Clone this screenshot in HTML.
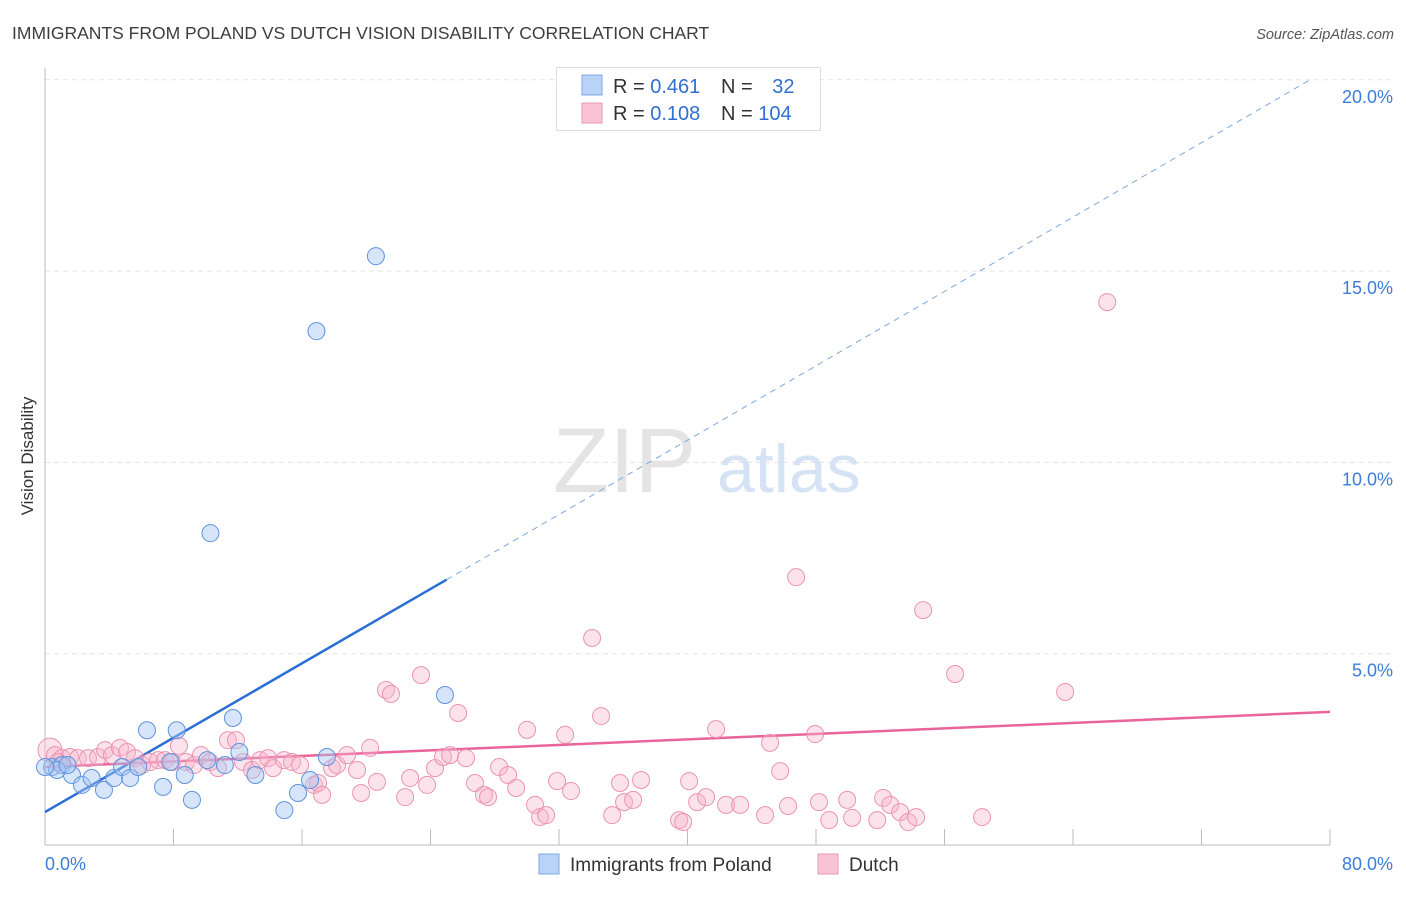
<!DOCTYPE html>
<html><head><meta charset="utf-8"><style>
body{margin:0;background:#fff;font-family:"Liberation Sans",sans-serif;}
svg text{font-family:"Liberation Sans",sans-serif;}
</style></head><body>
<svg id="chart" width="1406" height="892" viewBox="0 0 1406 892">
<text x="12" y="39" font-size="17.5" fill="#3d3d3d">IMMIGRANTS FROM POLAND VS DUTCH VISION DISABILITY CORRELATION CHART</text>
<text x="1394" y="39" font-size="14.5" fill="#555" font-style="italic" text-anchor="end">Source: ZipAtlas.com</text>
<text transform="translate(33,456) rotate(-90)" font-size="17" fill="#333" text-anchor="middle">Vision Disability</text>
<g id="grid"></g>
<g><text x="553" y="492" font-size="92" fill="#e4e4e4" font-family="Liberation Serif,serif">ZIP</text><text x="717" y="492" font-size="68" fill="#d5e3f5">atlas</text></g>
<g id="axes"></g>
<g id="lines"></g>
<g id="pts"></g>
<g>
<rect x="556.5" y="67.5" width="264" height="63" fill="#fff" stroke="#ddd"/>
<rect x="582" y="75" width="20" height="20" fill="#b8d3f5" stroke="#7eaae6"/>
<rect x="582" y="103" width="20" height="20" fill="#f9c3d3" stroke="#eb9ab4"/>
<text x="613" y="93" font-size="20" fill="#333">R = <tspan fill="#2f6fd0">0.461</tspan></text>
<text x="721" y="93" font-size="20" fill="#333">N = <tspan fill="#2f6fd0" dx="14">32</tspan></text>
<text x="613" y="120" font-size="20" fill="#333">R = <tspan fill="#2f6fd0">0.108</tspan></text>
<text x="721" y="120" font-size="20" fill="#333">N = <tspan fill="#2f6fd0">104</tspan></text>
</g>
<g>
<rect x="539" y="854" width="20" height="20" fill="#b8d3f5" stroke="#7eaae6"/>
<text x="570" y="871" font-size="19" fill="#333">Immigrants from Poland</text>
<rect x="818" y="854" width="20" height="20" fill="#f9c3d3" stroke="#eb9ab4"/>
<text x="849" y="871" font-size="19" fill="#333">Dutch</text>
</g>
</svg>
<script>
const yTicks=[5,10,15,20];
const yTickLabels=["5.0%","10.0%","15.0%","20.0%"];
const xTickLabels=["0.0%","80.0%"];
const polandX=[0.44,1.06,1.68,2.3,2.9,3.67,4.3,4.8,5.3,5.8,6.35,7.35,7.8,8.2,8.7,9.15,10.1,10.3,11.2,11.7,12.1,13.1,14.9,15.75,16.5,16.9,17.55,20.6,24.9,0.75,0.0,1.4];
const polandY=[2.04,2.09,1.83,1.57,1.75,1.44,1.75,2.04,1.75,2.04,3.0,1.52,2.17,3.0,1.83,1.18,2.22,8.15,2.09,3.32,2.43,1.83,0.91,1.36,1.7,13.43,2.3,15.39,3.92,1.96,2.04,2.09];
const dutchX=[0.31,0.62,1.06,1.56,2.05,2.68,3.3,3.74,4.17,4.67,5.11,5.6,6.04,6.54,7.04,7.47,7.91,8.34,8.78,9.28,9.71,10.27,10.77,11.39,11.89,12.33,12.89,13.39,13.89,14.2,14.88,15.38,15.88,16.75,17.0,17.25,17.87,18.18,18.8,19.43,19.68,20.24,20.67,21.23,21.54,22.42,22.73,23.41,23.79,24.28,24.78,25.22,25.72,26.21,26.77,27.33,27.58,28.27,28.83,29.33,30.01,30.51,30.82,31.2,31.88,32.38,32.75,34.06,34.62,35.31,35.8,36.05,36.61,37.11,39.48,39.73,40.1,40.6,41.16,41.78,42.4,43.28,44.83,45.14,45.77,46.26,46.76,47.95,48.19,48.82,49.94,50.25,51.81,52.18,52.62,53.24,53.74,54.23,54.67,56.66,58.34,63.51,66.13,0.81];
const dutchY=[2.48,2.35,2.27,2.3,2.27,2.27,2.3,2.48,2.35,2.54,2.43,2.27,2.09,2.17,2.22,2.22,2.17,2.59,2.17,2.09,2.35,2.17,2.01,2.74,2.74,2.17,1.96,2.22,2.27,2.01,2.22,2.17,2.09,1.57,1.62,1.31,2.01,2.09,2.35,1.96,1.36,2.54,1.65,4.05,3.95,1.25,1.75,4.44,1.57,2.01,2.3,2.35,3.45,2.27,1.62,1.31,1.25,2.04,1.83,1.49,3.01,1.05,0.73,0.78,1.67,2.88,1.41,5.41,3.37,0.78,1.62,1.12,1.18,1.7,0.65,0.6,1.67,1.12,1.25,3.03,1.05,1.05,0.78,2.67,1.93,1.02,7.0,2.9,1.12,0.65,1.18,0.71,0.65,1.23,1.05,0.86,0.6,0.73,6.14,4.47,0.73,4.0,14.19,2.17];
const polandTrend=[0.86,0.243];
const dutchTrend=[2.04,0.018];
const NS="http://www.w3.org/2000/svg";
const X=v=>45+v*(1285/80), Y=v=>845-v*38.26;
function mk(tag,attrs,parent){const e=document.createElementNS(NS,tag);for(const k in attrs)e.setAttribute(k,attrs[k]);parent.appendChild(e);return e;}
const grid=document.getElementById('grid'),axes=document.getElementById('axes'),lines=document.getElementById('lines'),pts=document.getElementById('pts');
yTicks.forEach((t,i)=>{
 const g=mk('line',{x1:45,x2:1394,y1:Y(t),y2:Y(t),stroke:'#e3e3e3','stroke-dasharray':'5,4'},grid);
 
 
 const tx=mk('text',{x:1393,y:Y(t)+23,'font-size':18,fill:'#3b7dd8','text-anchor':'end'},axes);
 tx.textContent=yTickLabels[i];
 
 
});
const ya=mk('line',{x1:45,x2:45,y1:68,y2:845,stroke:'#bbb'},axes);


const xa=mk('line',{x1:45,x2:1330,y1:845,y2:845,stroke:'#bbb'},axes);


for(let v=8;v<=80;v+=8){
 const t=mk('line',{x1:X(v),x2:X(v),y1:829,y2:845,stroke:'#bbb'},axes);
 
 
}
const xl0=mk('text',{x:45,y:870,'font-size':18,fill:'#3b7dd8'},axes);xl0.textContent=xTickLabels[0];


const xl1=mk('text',{x:1393,y:870,'font-size':18,fill:'#3b7dd8','text-anchor':'end'},axes);xl1.textContent=xTickLabels[1];


dutchX.forEach((x,i)=>{
 const c=mk('circle',{cx:X(x),cy:Y(dutchY[i]),r:(i===0?12:8.5),fill:'rgba(248,182,204,0.4)',stroke:'#eb93b0','stroke-width':1},pts);
 
 
});
polandX.forEach((x,i)=>{
 const c=mk('circle',{cx:X(x),cy:Y(polandY[i]),r:8.5,fill:'rgba(165,198,242,0.45)',stroke:'#5f93dc','stroke-width':1},pts);
 
 
});
const pl=mk('line',{x1:X(0),y1:Y(polandTrend[0]),x2:X(25),y2:Y(polandTrend[0]+polandTrend[1]*25),stroke:'#2a6fd6','stroke-width':2.5},lines);


const pd=mk('line',{x1:X(25),y1:Y(polandTrend[0]+polandTrend[1]*25),x2:X(78.8),y2:Y(polandTrend[0]+polandTrend[1]*78.8),stroke:'#7ea7e0','stroke-width':1,'stroke-dasharray':'6,5'},lines);


const dl=mk('line',{x1:X(0),y1:Y(dutchTrend[0]),x2:X(80),y2:Y(dutchTrend[0]+dutchTrend[1]*80),stroke:'#e8649a','stroke-width':2.5},lines);


</script>
</body></html>
